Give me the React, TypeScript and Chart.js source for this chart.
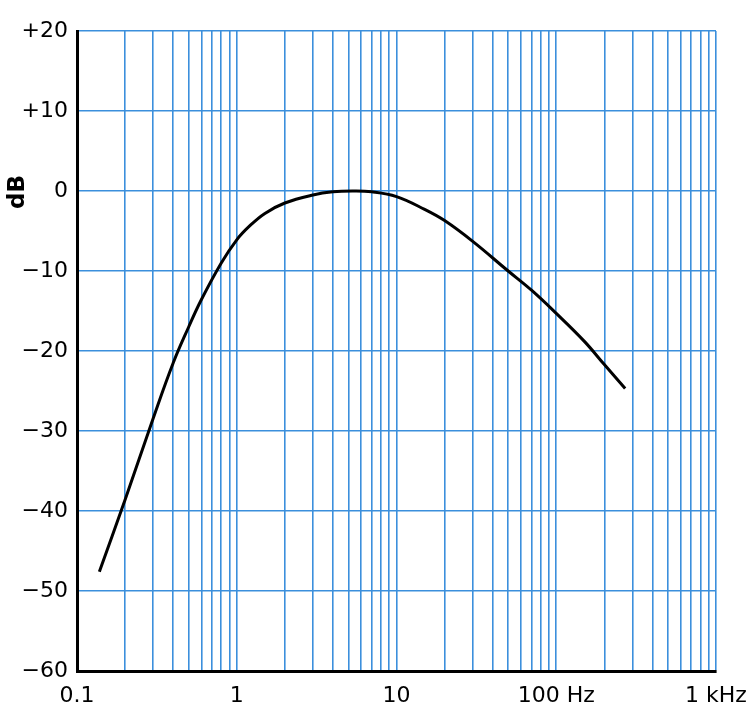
import { useEffect, useRef } from "react";
import Chart from "chart.js/auto";

// frequency response (Hz, dB)
const freqs: number[] = [0.138, 0.2, 0.3, 0.4, 0.5, 0.6, 0.8, 1, 1.2, 1.5, 2, 3, 4, 5.3, 7, 10, 15, 20, 30, 50, 70, 100, 150, 200, 270];
const gains: number[] = [-47.6, -38.6, -28.4, -21.5, -17.0, -13.6, -9.0, -6.1, -4.4, -2.8, -1.5, -0.5, -0.1, 0, -0.1, -0.7, -2.3, -3.7, -6.3, -10, -12.4, -15.3, -18.8, -21.7, -24.7];

const decades: number[] = [0.1, 1, 10, 100];
const xMajor: number[] = [0.1, 1, 10, 100, 1000];
const xLabels: string[] = ["0.1", "1", "10", "100 Hz", "1 kHz"];
const yTicks: number[] = [20, 10, 0, -10, -20, -30, -40, -50, -60];
const yLabels: string[] = ["+20", "+10", "0", "\u221210", "\u221220", "\u221230", "\u221240", "\u221250", "\u221260"];

const GRID = "#3b8fdc";
const FONT = "'DejaVu Sans', sans-serif";

const dbTitle = {
    id: "dbTitle",
    afterDraw(chart: Chart) {
        const ctx = chart.ctx;
        ctx.save();
        ctx.translate(18, 192);
        ctx.rotate(-Math.PI / 2);
        ctx.font = "bold 23px " + FONT;
        ctx.fillStyle = "#000";
        ctx.textAlign = "center";
        ctx.textBaseline = "middle";
        ctx.fillText("dB", 0, 0);
        ctx.restore();
    },
};

const ResponseChart = () => {
    const canvasRef = useRef<HTMLCanvasElement | null>(null);

    useEffect(() => {
        if (!canvasRef.current) return;
        const ctx = canvasRef.current.getContext("2d");
        if (!ctx) return;

        const chart = new Chart(ctx, {
            type: "line",
            data: {
                datasets: [
                    {
                        data: freqs.map((f, i) => ({ x: f, y: gains[i] })),
                        borderColor: "#000",
                        borderWidth: 3,
                        pointRadius: 0,
                        tension: 0.4,
                        fill: false,
                    },
                ],
            },
            options: {
                responsive: false,
                animation: false,
                layout: { padding: { top: 31, right: 39, left: 0, bottom: 0 } },
                plugins: {
                    legend: { display: false },
                    tooltip: { enabled: false },
                },
                scales: {
                    x: {
                        type: "logarithmic",
                        min: 0.1,
                        max: 1000,
                        afterFit: (s: any) => {
                            s.height = 47;
                            s.paddingLeft = 0;
                            s.paddingRight = 0;
                        },
                        afterBuildTicks: (s: any) => {
                            const t: { value: number }[] = [];
                            decades.forEach((d) => {
                                for (let m = 1; m < 10; m++) t.push({ value: d * m });
                            });
                            t.push({ value: 1000 });
                            s.ticks = t;
                        },
                        grid: { color: GRID, lineWidth: 1.6, drawTicks: false },
                        border: { color: "#000", width: 3 },
                        ticks: {
                            autoSkip: false,
                            maxRotation: 0,
                            padding: 12,
                            color: "#000",
                            font: { family: FONT, size: 22 },
                            callback: (v: any) => {
                                const i = xMajor.findIndex((m) => Math.abs(Math.log10(Number(v) / m)) < 1e-6);
                                return i >= 0 ? xLabels[i] : "";
                            },
                        },
                    },
                    y: {
                        min: -60,
                        max: 20,
                        afterFit: (s: any) => { s.width = 77; },
                        grid: { color: GRID, lineWidth: 1.6, drawTicks: false },
                        border: { color: "#000", width: 3 },
                        ticks: {
                            stepSize: 10,
                            padding: 9,
                            color: "#000",
                            font: { family: FONT, size: 22 },
                            callback: (v: any) => {
                                const i = yTicks.indexOf(Number(v));
                                return i >= 0 ? yLabels[i] : "";
                            },
                        },
                    },
                },
            },
            plugins: [dbTitle],
        });

        return () => {
            chart.destroy();
        };
    }, []);

    return <canvas ref={canvasRef} width={755} height={718}></canvas>;
};

export default function App() {
    return (
        <div style={{ position: "absolute", left: 0, top: 0, width: 755, height: 718, background: "#fff" }}>
            <ResponseChart />
        </div>
    );
}
